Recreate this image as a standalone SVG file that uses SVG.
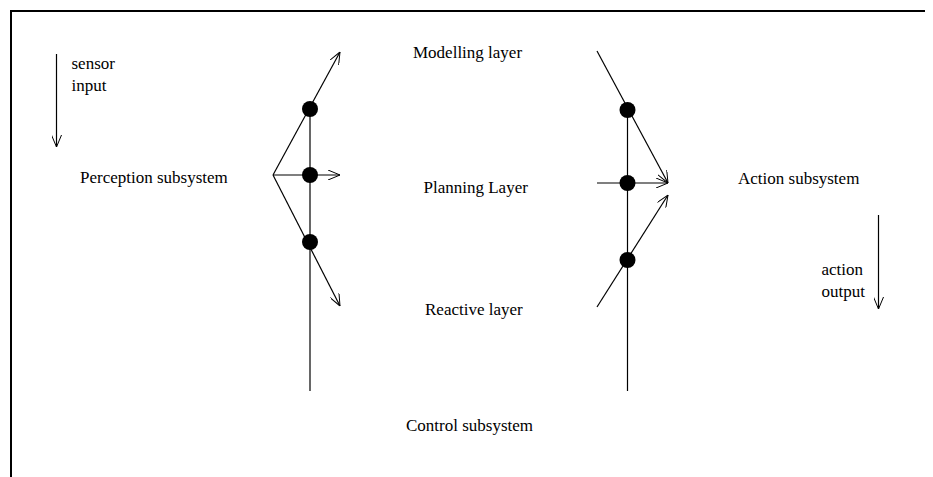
<svg xmlns="http://www.w3.org/2000/svg" width="933" height="477" viewBox="0 0 933 477">
<defs>
<marker id="arr" viewBox="0 0 12 10" refX="12" refY="5" markerWidth="12" markerHeight="10" markerUnits="userSpaceOnUse" orient="auto">
<path d="M0,0 L12,5 L0,10" fill="none" stroke="#000" stroke-width="1"/>
</marker>
<style>
.t{font-family:"Liberation Serif","Times New Roman",serif;font-size:17px;fill:#000}
.l{stroke:#000;stroke-width:1.2;fill:none}
.d{fill:#000}
</style>
</defs>
<rect width="933" height="477" fill="#fff"/>
<path d="M11,477 V11 H925" fill="none" stroke="#000" stroke-width="2"/>
<g id="connectors">
<line class="l" x1="56.5" y1="54" x2="56.5" y2="147" marker-end="url(#arr)"/>
<line class="l" x1="878.5" y1="215" x2="878.5" y2="309" marker-end="url(#arr)"/>
<line class="l" x1="310" y1="108" x2="310" y2="391"/>
<line class="l" x1="273" y1="175" x2="340" y2="52" marker-end="url(#arr)"/>
<line class="l" x1="273" y1="175" x2="340" y2="175" marker-end="url(#arr)"/>
<line class="l" x1="273" y1="175" x2="340" y2="306" marker-end="url(#arr)"/>
<line class="l" x1="627.5" y1="108" x2="627.5" y2="391"/>
<line class="l" x1="597" y1="51" x2="668" y2="183" marker-end="url(#arr)"/>
<line class="l" x1="597" y1="183" x2="668" y2="183" marker-end="url(#arr)"/>
<line class="l" x1="597" y1="307" x2="668" y2="195" marker-end="url(#arr)"/>
</g>
<g id="dots">
<circle class="d" cx="310" cy="109" r="8"/>
<circle class="d" cx="310" cy="175" r="8"/>
<circle class="d" cx="310" cy="242" r="8"/>
<circle class="d" cx="627.5" cy="110" r="8"/>
<circle class="d" cx="627.5" cy="183" r="8"/>
<circle class="d" cx="627.5" cy="260" r="8"/>
</g>
<g id="sensor-input"><text class="t" x="71.5" y="69">sensor</text><text class="t" x="71.5" y="91">input</text></g>
<g id="perception"><text class="t" x="80" y="183">Perception subsystem</text></g>
<g id="modelling"><text class="t" x="413" y="58">Modelling layer</text></g>
<g id="planning"><text class="t" x="423.5" y="193">Planning Layer</text></g>
<g id="reactive"><text class="t" x="425" y="315">Reactive layer</text></g>
<g id="control"><text class="t" x="406" y="431">Control subsystem</text></g>
<g id="action"><text class="t" x="738" y="184">Action subsystem</text></g>
<g id="action-output"><text class="t" x="821.5" y="275">action</text><text class="t" x="821.5" y="297">output</text></g>
</svg>
